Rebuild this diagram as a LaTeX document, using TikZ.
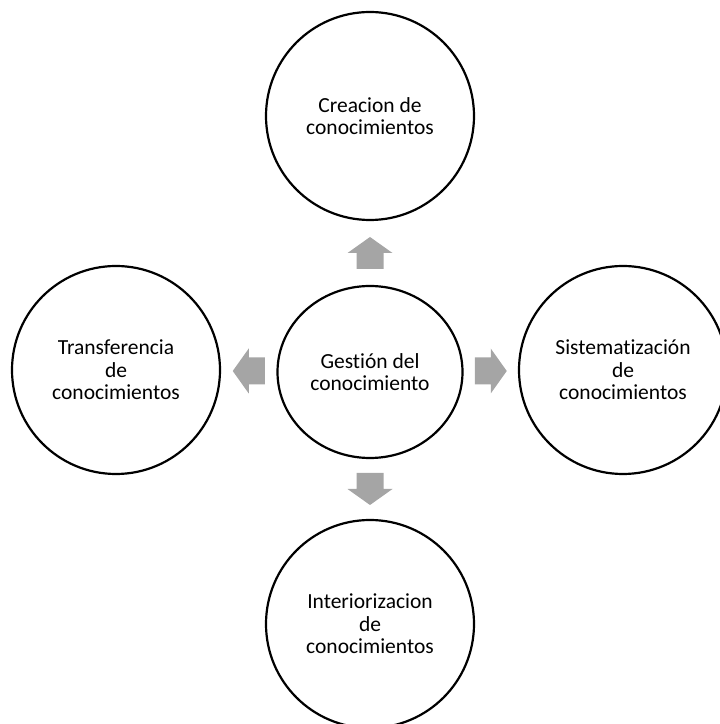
\documentclass[tikz,border=0pt]{standalone}
\usepackage{fontspec}
\setmainfont{Carlito}[Ligatures=NoCommon]
\usetikzlibrary{shapes.geometric,calc}
\definecolor{arrowgray}{HTML}{A5A5A5}
\begin{document}
\begin{tikzpicture}[x=1pt,y=1pt,
  topic/.style={circle,draw=black,line width=2.2pt,minimum size=208pt,inner sep=0pt,
    align=center,font=\fontsize{21.5}{22.5}\selectfont},
  hub/.style={ellipse,draw=black,line width=2.2pt,minimum width=185pt,minimum height=172pt,
    inner sep=0pt,align=center,font=\fontsize{21.5}{22.5}\selectfont},
  blockarrow/.pic={\fill[arrowgray] (-16,-13.5) -- (0,-13.5) -- (0,-22.5) -- (16,0)
    -- (0,22.5) -- (0,13.5) -- (-16,13.5) -- cycle;}]
  \useasboundingbox (0,0) rectangle (720,724);
  \clip (0,0) rectangle (720,724);

  % central concept and the four processes around it
  \node[hub]   (hub)    at (370,352) {Gestión del\\conocimiento};
  \node[topic] (create) at (370,608) {Creacion de\\conocimientos};
  \node[topic] (intern) at (370,100) {Interiorizacion\\de\\conocimientos};
  \node[topic] (trans)  at (116,354) {Transferencia\\de\\conocimientos};
  \node[topic] (system) at (623,354) {Sistematización\\de\\conocimientos};

  % block arrows pointing from the hub outwards
  \pic[rotate=90]  at ($(hub.north)!0.5!(create.south)$) {blockarrow};
  \pic[rotate=-90] at ($(hub.south)!0.5!(intern.north)$) {blockarrow};
  \pic[rotate=180] at ($(hub.west)!0.5!(trans.east)$)    {blockarrow};
  \pic             at ($(hub.east)!0.5!(system.west)$)   {blockarrow};
\end{tikzpicture}
\end{document}
